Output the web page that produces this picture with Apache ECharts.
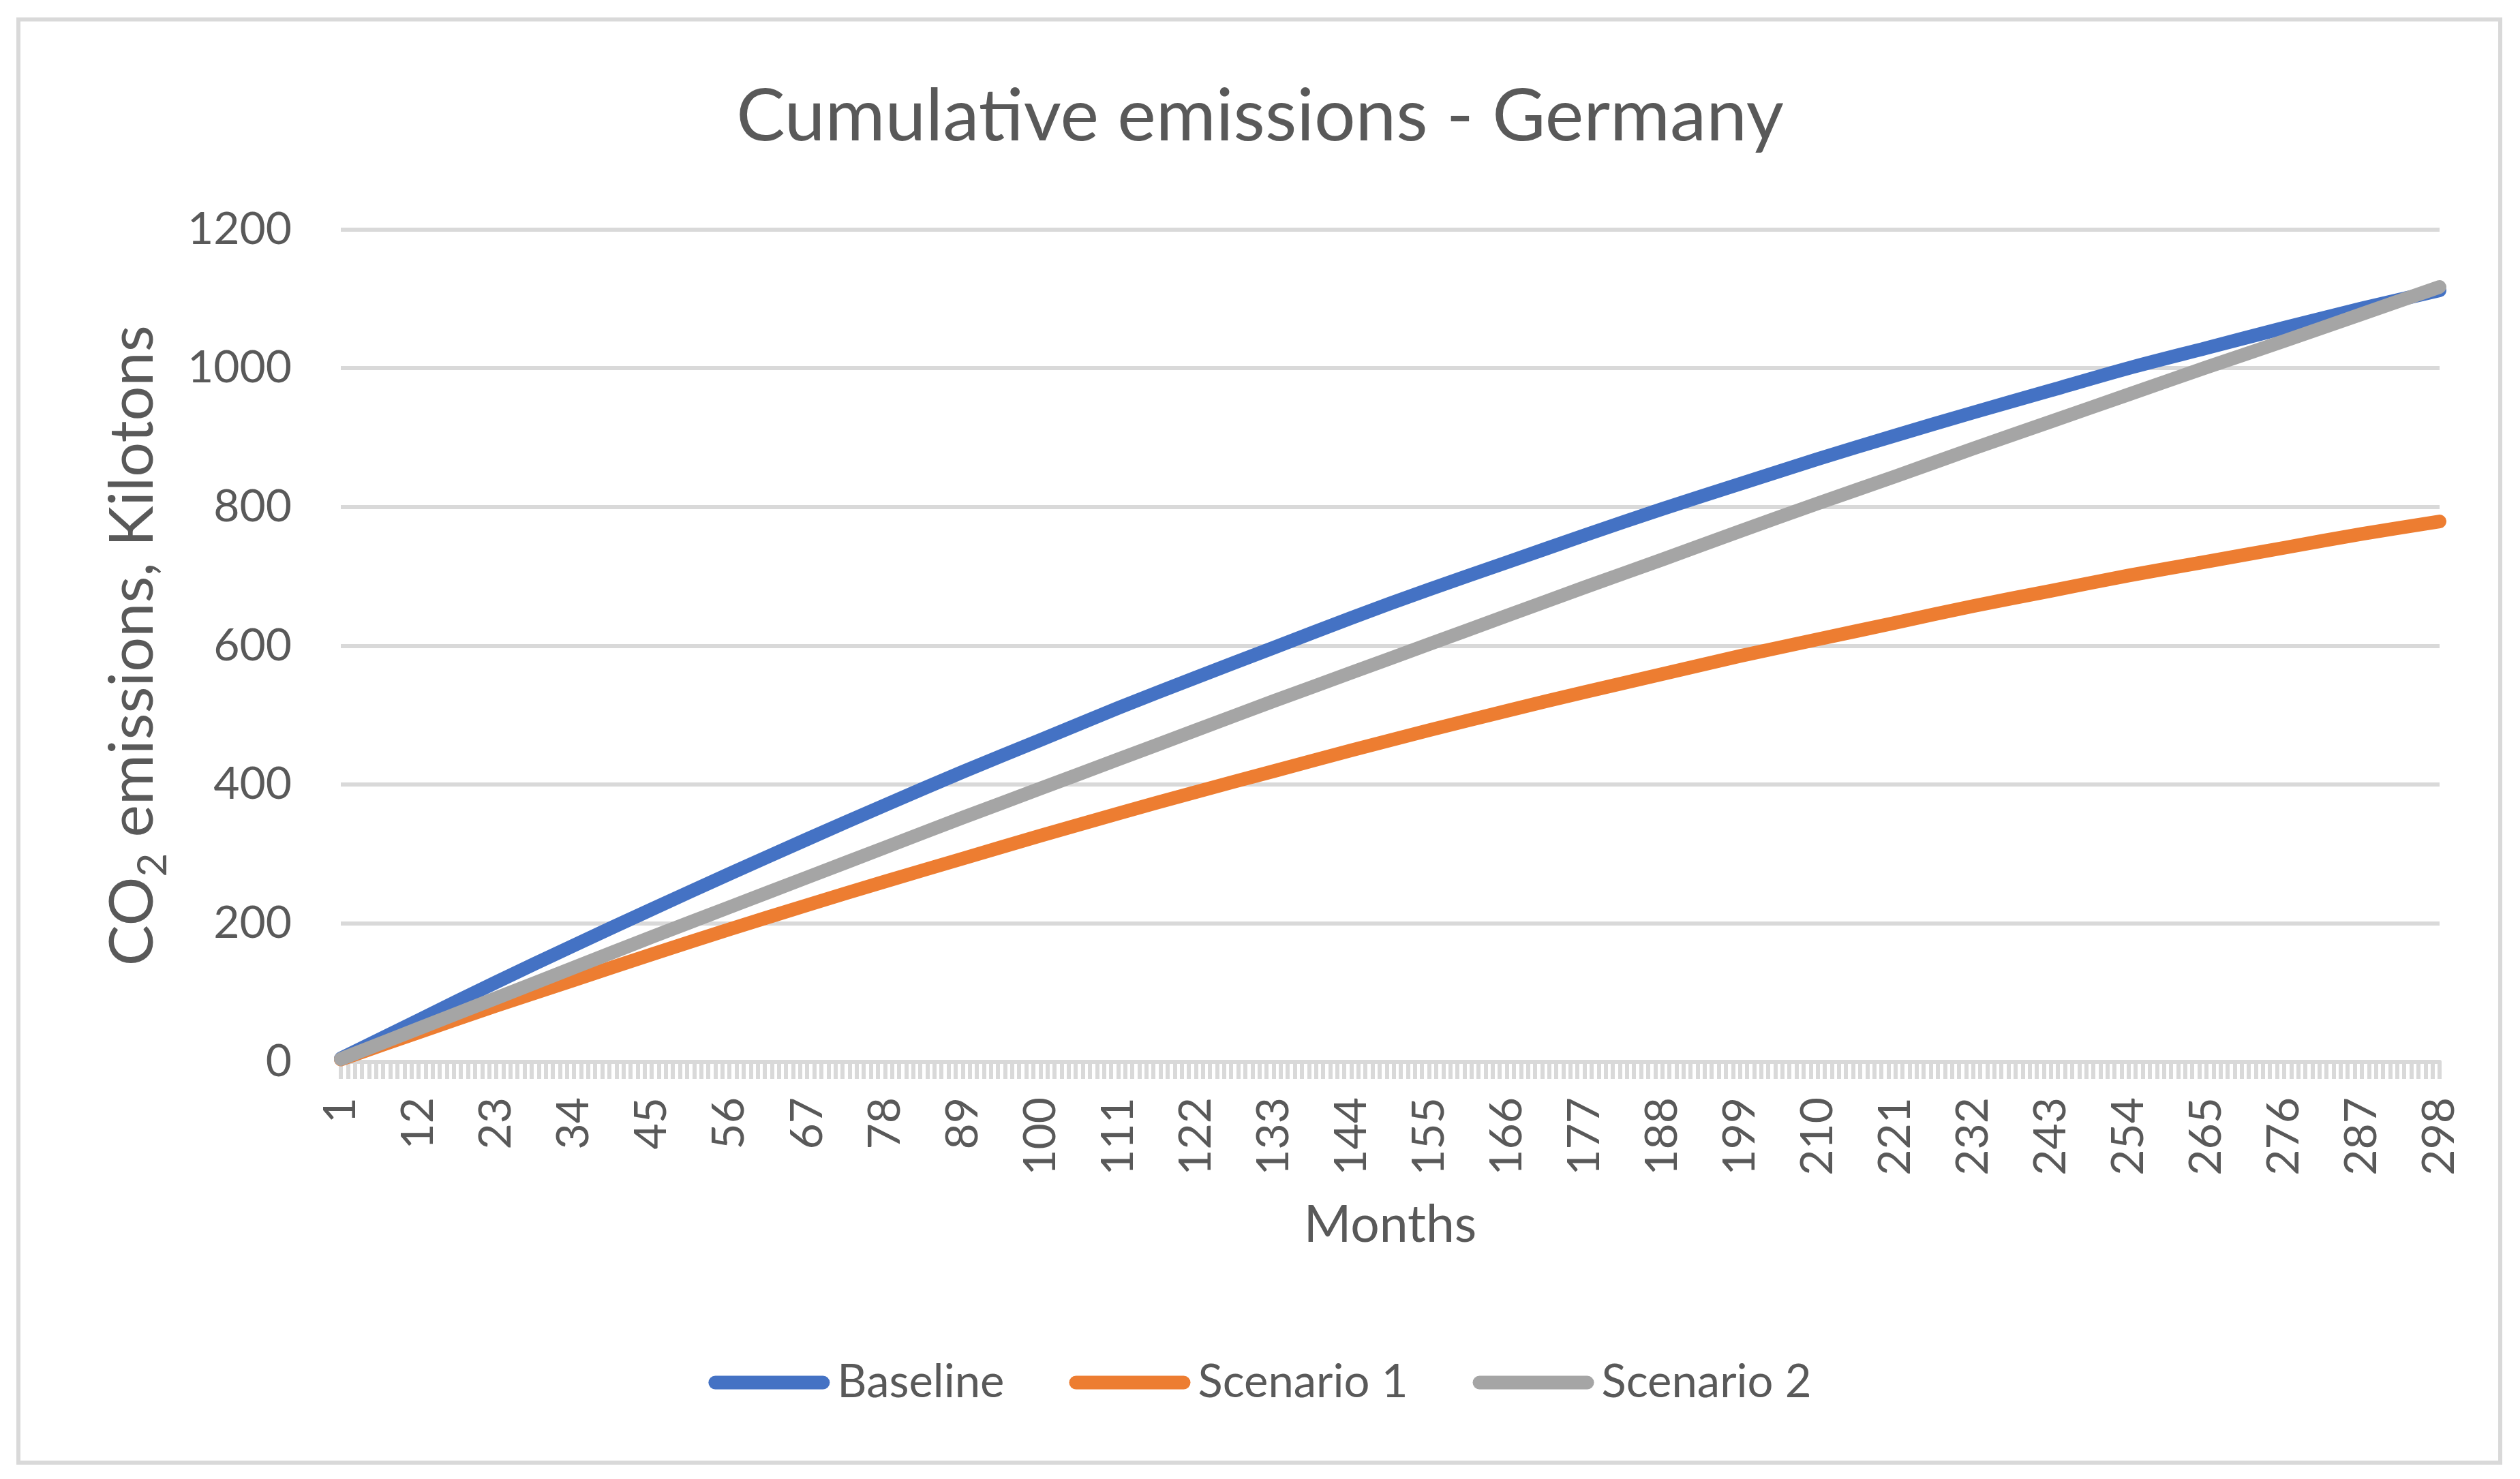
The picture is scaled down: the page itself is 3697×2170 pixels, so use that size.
<!DOCTYPE html>
<html>
<head>
<meta charset="utf-8">
<script src="https://cdn.jsdelivr.net/npm/echarts@6.0.0/dist/echarts.min.js"></script>
<style>
html,body{margin:0;padding:0;background:#ffffff;}
#chart{width:3697px;height:2170px;}
</style>
</head>
<body>
<div id="chart"></div>
<script>
// ---- data ----
const monthCount = 298;
const sampleMonths = [1,12,23,34,45,56,67,78,89,100,111,122,133,144,155,166,177,188,199,210,221,232,243,254,265,276,287,298];
const baseline  = [5,60,115,168,220,271,321,370,418,464,510,554,597,640,681,720,759,797,833,869,903,936,968,1000,1029,1058,1086,1112];
const scenario1 = [3.5,42.5,81,118,155,191,226,260,293,326,358,389,419,449,478,506,533,559,585,609,633,657,679,701,721,741,761,779];
const scenario2 = [4,48,92,136,180,223,266,309,352,394,436,478,520,561,602,643,684,724,765,805,844,884,923,962,1001,1039,1078,1117];
const seriesNames = ['Baseline','Scenario 1','Scenario 2'];
const seriesColors = ['#4472C4','#ED7D31','#A5A5A5'];
const yTicks = [0,200,400,600,800,1000,1200];

const categories = [];
for (let m = 1; m <= monthCount; m++) categories.push(String(m));

const seriesValues = [baseline, scenario1, scenario2];
const FONT = 'Lato';
const TXT = '#595959';

const chart = echarts.init(document.getElementById('chart'), null, {renderer:'canvas'});
chart.setOption({
  backgroundColor: '#ffffff',
  animation: false,
  title: {
    text: 'Cumulative emissions - Germany',
    left: 'center',
    top: 113,
    textStyle: {fontFamily: FONT, fontSize: 107, fontWeight: 'normal', color: TXT}
  },
  graphic: [{
    type: 'rect',
    shape: {x: 27, y: 28.5, width: 3641, height: 2117.5},
    style: {fill: 'none', stroke: '#D9D9D9', lineWidth: 6},
    silent: true
  }],
  legend: {
    data: seriesNames,
    left: 'center',
    top: 1990,
    itemWidth: 178,
    itemHeight: 20,
    itemGap: 95,
    icon: 'path://M10 0H168A10 10 0 0 1 168 20H10A10 10 0 0 1 10 0Z',
    textStyle: {fontFamily: FONT, fontSize: 67, color: TXT, padding: [0,0,0,6]}
  },
  grid: {left: 500, right: 118, top: 336.5, bottom: 612, containLabel: false},
  xAxis: {
    type: 'category',
    data: categories,
    boundaryGap: false,
    name: 'Months',
    nameLocation: 'middle',
    nameGap: 202,
    nameTextStyle: {fontFamily: FONT, fontSize: 75, color: TXT},
    axisLine: {show: true, lineStyle: {color: '#D9D9D9', width: 6}},
    axisTick: {show: true, interval: 0, length: 25, lineStyle: {color: '#D9D9D9', width: 6}},
    axisLabel: {
      interval: 10,
      rotate: 90,
      margin: 52,
      fontFamily: FONT, fontSize: 66, color: TXT
    },
    splitLine: {show: false}
  },
  yAxis: {
    type: 'value',
    min: yTicks[0],
    max: yTicks[yTicks.length - 1],
    interval: 200,
    name: '{a|CO}{b|2}{a| emissions, Kilotons}',
    nameLocation: 'middle',
    nameRotate: 90,
    nameGap: 245,
    nameTextStyle: {
      fontFamily: FONT, color: TXT,
      rich: {
        a: {fontFamily: FONT, fontSize: 90, color: TXT},
        b: {fontFamily: FONT, fontSize: 60, color: TXT, padding: [60,0,0,0]}
      }
    },
    axisLine: {show: false},
    axisTick: {show: false},
    axisLabel: {
      margin: 72, fontFamily: FONT, fontSize: 66, color: TXT,
      formatter: function (v) { return String(v); }
    },
    splitLine: {show: true, lineStyle: {color: '#D9D9D9', width: 6}}
  },
  series: seriesNames.map((name, si) => ({
    name: name,
    type: 'line',
    data: sampleMonths.map((m, i) => [String(m), seriesValues[si][i]]),
    showSymbol: false,
    symbol: 'none',
    smooth: 0.3,
    color: seriesColors[si],
    lineStyle: {color: seriesColors[si], width: 20, cap: 'round', join: 'round'},
    itemStyle: {color: seriesColors[si]},
    emphasis: {disabled: true}
  }))
});
</script>
</body>
</html>
